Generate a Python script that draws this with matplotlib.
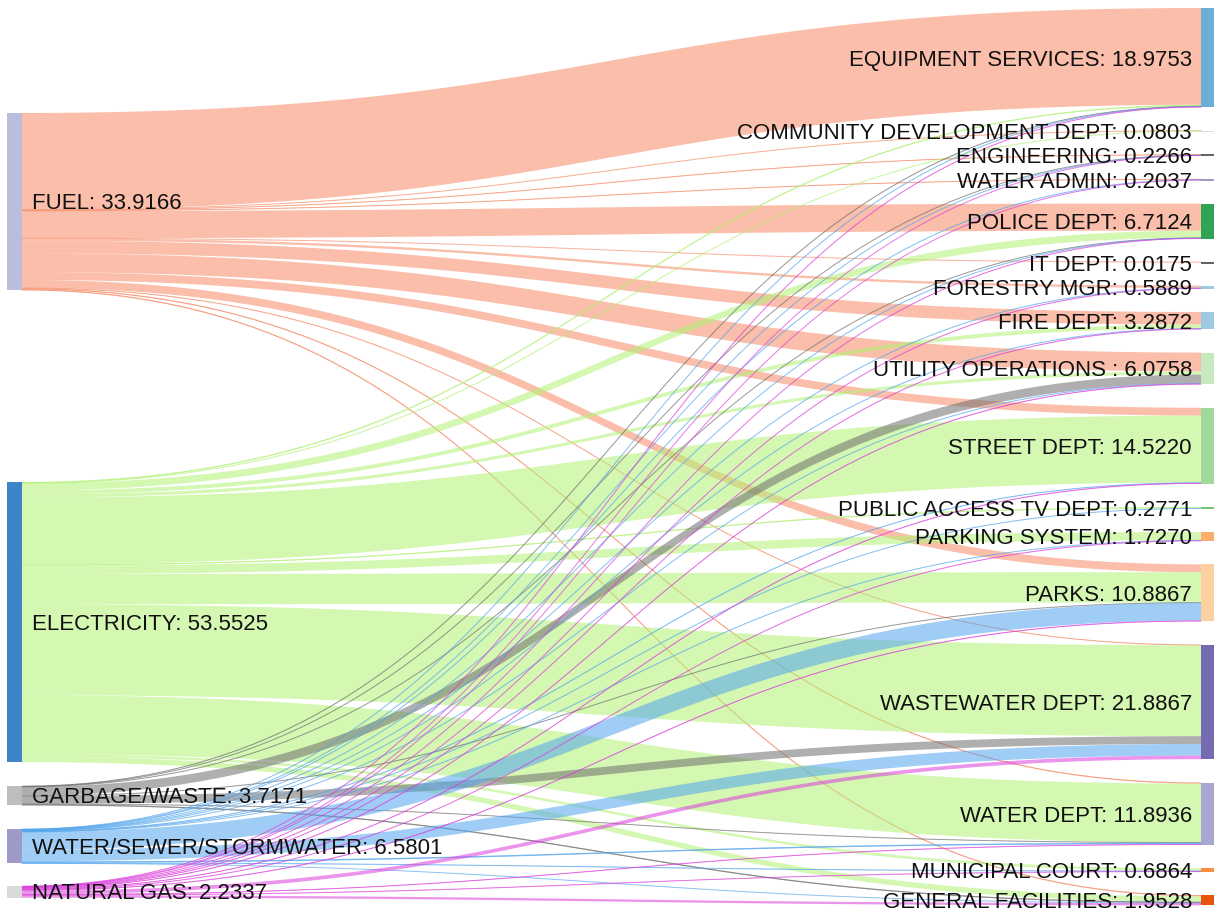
import numpy as np
import matplotlib.pyplot as plt
from matplotlib.patches import Polygon, Rectangle

plt.rcParams['font.family'] = ['Liberation Sans', 'DejaVu Sans']

# energy sources (left) and departments (right)
sources = ['FUEL', 'ELECTRICITY', 'GARBAGE/WASTE', 'WATER/SEWER/STORMWATER', 'NATURAL GAS']
targets = ['EQUIPMENT SERVICES', 'COMMUNITY DEVELOPMENT DEPT', 'ENGINEERING', 'WATER ADMIN',
           'POLICE DEPT', 'IT DEPT', 'FORESTRY MGR', 'FIRE DEPT', 'UTILITY OPERATIONS ',
           'STREET DEPT', 'PUBLIC ACCESS TV DEPT', 'PARKING SYSTEM', 'PARKS',
           'WASTEWATER DEPT', 'WATER DEPT', 'MUNICIPAL COURT', 'GENERAL FACILITIES']

# flows source -> department, same order as targets
fuel = [18.5, 0.04, 0.1, 0.1, 5.2, 0.0175, 0.4489, 2.4, 3.6, 1.5, 0, 0, 1.5, 0.1, 0.2, 0, 0.2102]
electricity = [0.2453, 0.0403, 0, 0, 1.3424, 0, 0, 0.7472, 0.5958, 12.792, 0.2271, 1.597,
               5.7967, 17.3867, 11.2435, 0.4964, 1.0421]
garbage = [0.08, 0, 0.05, 0, 0.05, 0, 0, 0, 1.7, 0, 0, 0, 0.05, 1.5, 0.05, 0, 0.2371]
water = [0.06, 0, 0.04, 0.0637, 0.05, 0, 0.06, 0.05, 0.05, 0.1, 0.05, 0.05, 3.4, 2.2,
         0.2801, 0.1, 0.0263]
gas = [0.09, 0, 0.0366, 0.04, 0.07, 0, 0.08, 0.09, 0.13, 0.13, 0, 0.08, 0.14, 0.7,
       0.12, 0.09, 0.4371]

source_colors = ['#bcbddc', '#3d85c6', '#bdbdbd', '#9e9ac8', '#d9d9d9']
target_colors = ['#6baed6', '#dadaeb', '#636363', '#9e9ac8', '#31a354', '#636363', '#9ecae1',
                 '#9ecae1', '#c7e9c0', '#a1d99b', '#74c476', '#fdae6b', '#fdd0a2',
                 '#756bb1', '#aaa6d2', '#fd8d3c', '#e6550d']
link_colors = ['#f68964', '#b1f273', '#6e6e6e', '#52a4ed', '#dc3cdc']

flows = np.array([fuel, electricity, garbage, water, gas])
src_tot = flows.sum(axis=1)
tgt_tot = flows.sum(axis=0)

# layout in pixels
k = 5.23
X0, X1 = 22, 1201
left_top = [113, 482, 786, 829, 886]
right_top = []
y = 8
for v in tgt_tot:
    right_top.append(y)
    y += v * k + 23.4

fig = plt.figure(figsize=(12.14, 9.14), dpi=100)
ax = fig.add_axes([0, 0, 1, 1])
ax.set_xlim(0, 1214)
ax.set_ylim(914, 0)
ax.axis('off')


def bez(y0, y1, n=80):
    t = np.linspace(0, 1, n)
    xm = (X0 + X1) / 2
    x = (1 - t) ** 3 * X0 + 3 * (1 - t) ** 2 * t * xm + 3 * (1 - t) * t ** 2 * xm + t ** 3 * X1
    yy = (1 - t) ** 3 * y0 + 3 * (1 - t) ** 2 * t * y0 + 3 * (1 - t) * t ** 2 * y1 + t ** 3 * y1
    return x, yy


# offsets of each link on both ends
s_off = np.zeros(flows.shape)
t_off = np.zeros(flows.shape)
for i in range(len(sources)):
    acc = left_top[i]
    for j in range(len(targets)):
        s_off[i, j] = acc
        acc += flows[i, j] * k
for j in range(len(targets)):
    acc = right_top[j]
    for i in range(len(sources)):
        t_off[i, j] = acc
        acc += flows[i, j] * k

for i in range(len(sources)):
    for j in range(len(targets)):
        f = flows[i, j]
        if f <= 0:
            continue
        w = f * k
        xt, yt = bez(s_off[i, j], t_off[i, j])
        xb, yb = bez(s_off[i, j] + w, t_off[i, j] + w)
        pts = np.column_stack([np.r_[xt, xb[::-1]], np.r_[yt, yb[::-1]]])
        ax.add_patch(Polygon(pts, closed=True, facecolor=link_colors[i], alpha=0.55,
                             edgecolor='none', zorder=1))
        if w < 1.5:
            xc, yc = bez(s_off[i, j] + w / 2, t_off[i, j] + w / 2)
            ax.plot(xc, yc, color=link_colors[i], lw=0.75, alpha=0.6, zorder=1)

# nodes and labels
for i, name in enumerate(sources):
    h = max(src_tot[i] * k, 1.5)
    ax.add_patch(Rectangle((7, left_top[i]), 15, h, facecolor=source_colors[i],
                           edgecolor='none', zorder=2))
    ax.text(32, left_top[i] + h / 2 + 2, f'{name}: {src_tot[i]:.4f}', fontsize=16,
            ha='left', va='center', color='#111111', zorder=3)

for j, name in enumerate(targets):
    h = max(tgt_tot[j] * k, 1.5)
    ax.add_patch(Rectangle((X1, right_top[j]), 15, h, facecolor=target_colors[j],
                           edgecolor='none', zorder=2))
    ax.text(1192, right_top[j] + h / 2 + 2.5, f'{name}: {tgt_tot[j]:.4f}', fontsize=16,
            ha='right', va='center', color='#111111', zorder=3)

fig.savefig('out.png', dpi=100)
